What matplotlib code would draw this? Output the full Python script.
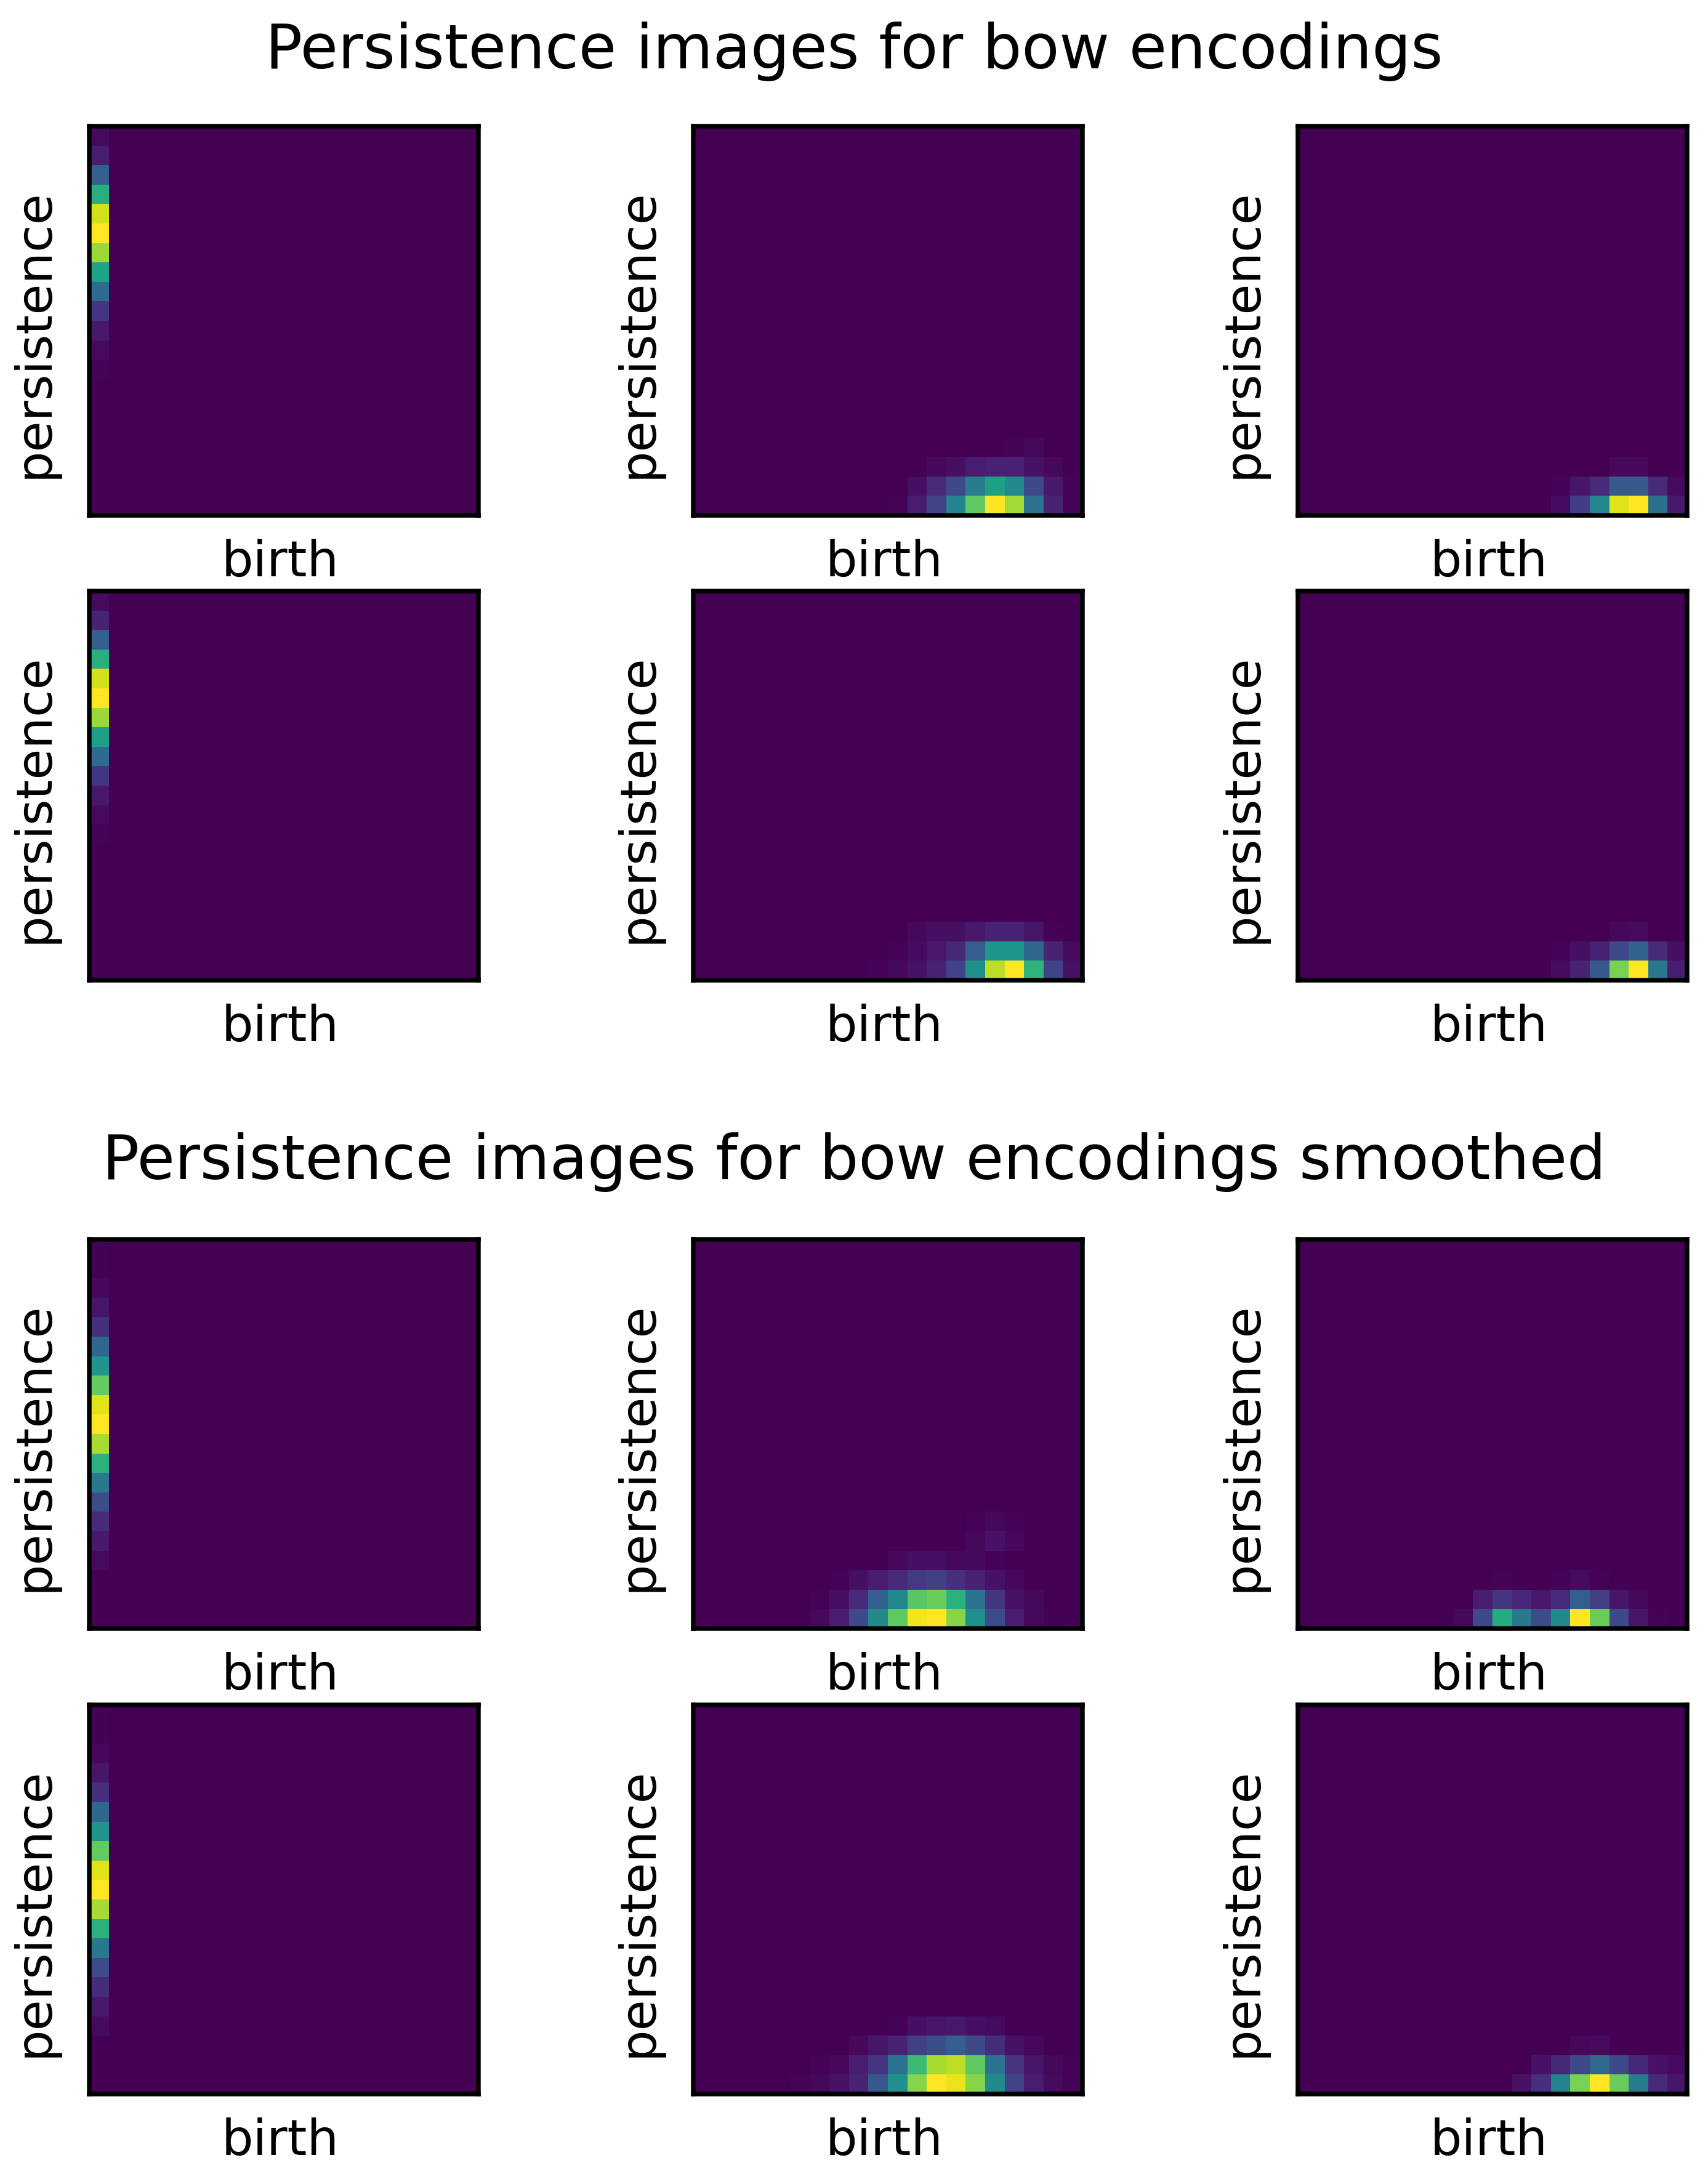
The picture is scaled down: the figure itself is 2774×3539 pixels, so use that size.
import numpy as np
import matplotlib
matplotlib.use('Agg')
import matplotlib.pyplot as plt

GRID = 20  # persistence image resolution (pixels per side)

titles = ['Persistence images for bow encodings',
          'Persistence images for bow encodings smoothed']
xlab = 'birth'
ylab = 'persistence'

# each patch: (first row, first col, values) -- everything else in the 20x20 image is 0
# --- bow encodings ---
pi_raw_0_0 = (0, 0, [[0.03], [0.08], [0.30], [0.63], [0.93], [1.00], [0.85],
                     [0.58], [0.35], [0.15], [0.07], [0.03], [0.01]])
pi_raw_0_1 = (16, 10, [[0, 0, 0, 0, 0, 0, 0.01, 0.02, 0, 0],
                       [0, 0, 0.02, 0.04, 0.08, 0.09, 0.09, 0.05, 0.02, 0],
                       [0, 0.04, 0.12, 0.22, 0.42, 0.57, 0.47, 0.22, 0.07, 0.01],
                       [0.01, 0.08, 0.20, 0.45, 0.75, 1.00, 0.86, 0.38, 0.10, 0.01]])
pi_raw_0_2 = (17, 13, [[0, 0, 0, 0.02, 0.02, 0, 0],
                       [0.01, 0.06, 0.12, 0.28, 0.28, 0.12, 0.03],
                       [0.03, 0.18, 0.46, 0.95, 1.00, 0.37, 0.07]])
pi_raw_1_0 = (0, 0, [[0.03], [0.10], [0.30], [0.63], [0.93], [1.00], [0.85],
                     [0.57], [0.35], [0.16], [0.07], [0.03], [0.01]])
pi_raw_1_1 = (17, 9, [[0, 0, 0.02, 0.04, 0.04, 0.07, 0.10, 0.10, 0.06, 0.01, 0],
                      [0, 0.01, 0.03, 0.07, 0.11, 0.30, 0.53, 0.53, 0.33, 0.10, 0.03],
                      [0.01, 0.02, 0.05, 0.10, 0.20, 0.50, 0.90, 1.00, 0.65, 0.20, 0.05]])
pi_raw_1_2 = (17, 13, [[0, 0, 0, 0.02, 0.03, 0, 0],
                       [0.01, 0.04, 0.10, 0.22, 0.32, 0.12, 0.04],
                       [0.03, 0.10, 0.27, 0.80, 1.00, 0.40, 0.08]])

# --- bow encodings smoothed ---
pi_smooth_0_0 = (0, 0, [[0.005], [0.005], [0.02], [0.06], [0.14], [0.33], [0.52],
                        [0.76], [0.95], [1.00], [0.87], [0.64], [0.40], [0.23],
                        [0.12], [0.07], [0.03]])
pi_smooth_0_1 = (14, 6, [[0, 0, 0, 0, 0, 0, 0, 0, 0.01, 0.02, 0.01, 0, 0],
                         [0, 0, 0, 0, 0, 0, 0, 0, 0.02, 0.05, 0.02, 0, 0],
                         [0, 0, 0, 0, 0.02, 0.04, 0.04, 0.02, 0.02, 0.01, 0, 0, 0],
                         [0, 0.01, 0.04, 0.08, 0.12, 0.17, 0.19, 0.14, 0.09, 0.05, 0.02, 0, 0],
                         [0.01, 0.04, 0.12, 0.30, 0.46, 0.74, 0.77, 0.64, 0.38, 0.15, 0.05, 0.02, 0],
                         [0.02, 0.08, 0.22, 0.47, 0.75, 0.98, 1.00, 0.82, 0.50, 0.23, 0.08, 0.02, 0.005]])
pi_smooth_0_2 = (17, 8, [[0, 0, 0.01, 0, 0, 0.01, 0.03, 0.01, 0, 0, 0],
                         [0, 0.08, 0.16, 0.11, 0.07, 0.12, 0.30, 0.19, 0.06, 0.02, 0],
                         [0.02, 0.22, 0.62, 0.40, 0.23, 0.47, 1.00, 0.77, 0.22, 0.06, 0.01]])
pi_smooth_1_0 = (0, 0, [[0.005], [0.005], [0.02], [0.06], [0.14], [0.33], [0.52],
                        [0.76], [0.95], [1.00], [0.87], [0.64], [0.40], [0.23],
                        [0.13], [0.07], [0.03]])
pi_smooth_1_1 = (16, 5, [[0, 0, 0, 0, 0, 0.01, 0.04, 0.06, 0.07, 0.04, 0.03, 0, 0, 0, 0],
                         [0, 0, 0, 0.02, 0.06, 0.10, 0.19, 0.24, 0.30, 0.22, 0.13, 0.05, 0.02, 0, 0],
                         [0, 0.01, 0.02, 0.08, 0.15, 0.38, 0.68, 0.87, 0.90, 0.75, 0.38, 0.15, 0.06, 0.02, 0.01],
                         [0.01, 0.02, 0.05, 0.10, 0.27, 0.50, 0.82, 1.00, 0.97, 0.82, 0.48, 0.20, 0.08, 0.03, 0.01]])
pi_smooth_1_2 = (17, 11, [[0, 0, 0, 0.02, 0.03, 0, 0, 0, 0],
                          [0, 0.05, 0.11, 0.22, 0.34, 0.22, 0.11, 0.05, 0.03],
                          [0.05, 0.14, 0.45, 0.80, 1.00, 0.77, 0.42, 0.12, 0.06]])

sections = [[[pi_raw_0_0, pi_raw_0_1, pi_raw_0_2],
             [pi_raw_1_0, pi_raw_1_1, pi_raw_1_2]],
            [[pi_smooth_0_0, pi_smooth_0_1, pi_smooth_0_2],
             [pi_smooth_1_0, pi_smooth_1_1, pi_smooth_1_2]]]


def to_image(patch):
    r0, c0, vals = patch
    vals = np.array(vals, dtype=float)
    img = np.zeros((GRID, GRID))
    img[r0:r0 + vals.shape[0], c0:c0 + vals.shape[1]] = vals
    return img


W, H = 2774, 3539
fig = plt.figure(figsize=(W / 100., H / 100.), dpi=100)

# layout in pixels
size = 632
lefts = [145, 1126, 2108]
tops = [[205, 960], [2013, 2769]]
title_y = [83, 1887]

for s in range(2):
    fig.text(0.5, 1 - title_y[s] / float(H), titles[s], ha='center', va='center',
             fontsize=71.8)
    for i in range(2):
        for j in range(3):
            ax = fig.add_axes([lefts[j] / float(W), 1 - (tops[s][i] + size) / float(H),
                               size / float(W), size / float(H)])
            ax.imshow(to_image(sections[s][i][j]), cmap='viridis',
                      interpolation='nearest', aspect='auto')
            ax.set_xticks([])
            ax.set_yticks([])
            for sp in ax.spines.values():
                sp.set_linewidth(5.4)
            ax.set_xlabel(xlab, fontsize=58.5, labelpad=27)
            ax.set_ylabel(ylab, fontsize=58.5, labelpad=36)
            ax.xaxis.label.set_x(0.49)
            ax.yaxis.label.set_y(0.468)

fig.savefig('out.png', dpi=100)
